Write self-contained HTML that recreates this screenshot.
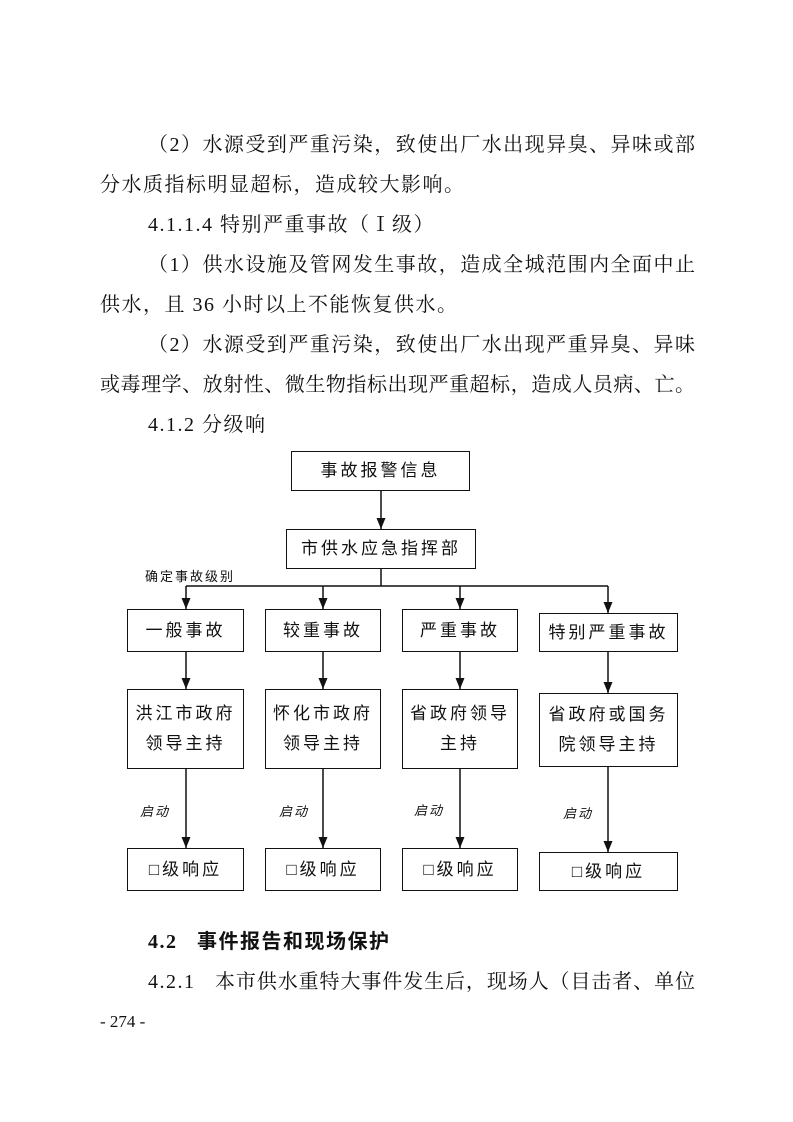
<!DOCTYPE html>
<html><head><meta charset="utf-8"><style>
html,body{margin:0;padding:0;background:#fff;}
body{width:793px;height:1122px;position:relative;overflow:hidden;font-family:"Liberation Serif","Noto Serif CJK SC",serif;color:#111;}
.l{position:absolute;font-size:20px;line-height:24px;white-space:nowrap;letter-spacing:1.5px;}
.j{text-align:justify;text-align-last:justify;letter-spacing:0;}
.b{position:absolute;border:1.5px solid #111;box-sizing:border-box;display:flex;align-items:center;justify-content:center;text-align:center;font-size:17px;line-height:30px;letter-spacing:3px;font-family:"Liberation Sans","Noto Sans CJK SC",sans-serif;}
.t{position:absolute;font-size:13px;font-family:"Liberation Sans","Noto Sans CJK SC",sans-serif;letter-spacing:2px;}
</style></head><body>
<div class="l j" style="left:148px;top:133px;width:547px">（2）水源受到严重污染，致使出厂水出现异臭、异味或部</div>
<div class="l" style="left:100px;top:173px">分水质指标明显超标，造成较大影响。</div>
<div class="l" style="left:148px;top:213px">4.1.1.4 特别严重事故（Ⅰ级）</div>
<div class="l j" style="left:148px;top:253px;width:547px">（1）供水设施及管网发生事故，造成全城范围内全面中止</div>
<div class="l" style="left:100px;top:293px">供水，且 36 小时以上不能恢复供水。</div>
<div class="l j" style="left:148px;top:333px;width:547px">（2）水源受到严重污染，致使出厂水出现严重异臭、异味</div>
<div class="l j" style="left:100px;top:373px;width:595px">或毒理学、放射性、微生物指标出现严重超标，造成人员病、亡。</div>
<div class="l" style="left:148px;top:413px">4.1.2 分级响</div>

<svg style="position:absolute;left:0;top:0" width="793" height="1122">
<defs><marker id="a" markerWidth="11" markerHeight="9" refX="11" refY="4.5" orient="auto" markerUnits="userSpaceOnUse"><path d="M0,0 L11,4.5 L0,9z" fill="#111"/></marker></defs>
<g stroke="#111" stroke-width="1.5" fill="none">
<line x1="381" y1="490" x2="381" y2="529" marker-end="url(#a)"/>
<line x1="381" y1="568" x2="381" y2="586"/>
<line x1="186" y1="586" x2="608" y2="586"/>
<line x1="186" y1="586" x2="186" y2="609" marker-end="url(#a)"/>
<line x1="323" y1="586" x2="323" y2="609" marker-end="url(#a)"/>
<line x1="460" y1="586" x2="460" y2="609" marker-end="url(#a)"/>
<line x1="608" y1="586" x2="608" y2="613" marker-end="url(#a)"/>
<line x1="186" y1="652" x2="186" y2="689" marker-end="url(#a)"/>
<line x1="323" y1="652" x2="323" y2="689" marker-end="url(#a)"/>
<line x1="460" y1="652" x2="460" y2="689" marker-end="url(#a)"/>
<line x1="608" y1="652" x2="608" y2="693" marker-end="url(#a)"/>
<line x1="186" y1="769" x2="186" y2="848" marker-end="url(#a)"/>
<line x1="323" y1="769" x2="323" y2="848" marker-end="url(#a)"/>
<line x1="460" y1="769" x2="460" y2="848" marker-end="url(#a)"/>
<line x1="608" y1="767" x2="608" y2="852" marker-end="url(#a)"/>
</g></svg>

<div class="b" style="left:291px;top:451px;width:179px;height:40px">事故报警信息</div>
<div class="b" style="left:286px;top:529px;width:190px;height:40px">市供水应急指挥部</div>
<div class="t" style="left:145px;top:566px">确定事故级别</div>

<div class="b" style="left:127px;top:609px;width:117px;height:43px">一般事故</div>
<div class="b" style="left:265px;top:609px;width:116px;height:43px">较重事故</div>
<div class="b" style="left:402px;top:609px;width:116px;height:43px">严重事故</div>
<div class="b" style="left:539px;top:613px;width:139px;height:39px">特别严重事故</div>

<div class="b" style="left:127px;top:689px;width:117px;height:80px">洪江市政府<br>领导主持</div>
<div class="b" style="left:265px;top:689px;width:116px;height:80px">怀化市政府<br>领导主持</div>
<div class="b" style="left:402px;top:689px;width:116px;height:80px">省政府领导<br>主持</div>
<div class="b" style="left:539px;top:693px;width:139px;height:74px">省政府或国务<br>院领导主持</div>

<div class="t" style="left:140px;top:801px;font-style:italic">启动</div>
<div class="t" style="left:279px;top:801px;font-style:italic">启动</div>
<div class="t" style="left:414px;top:800px;font-style:italic">启动</div>
<div class="t" style="left:563px;top:803px;font-style:italic">启动</div>

<div class="b" style="left:127px;top:848px;width:117px;height:43px">□级响应</div>
<div class="b" style="left:265px;top:848px;width:116px;height:43px">□级响应</div>
<div class="b" style="left:402px;top:848px;width:116px;height:43px">□级响应</div>
<div class="b" style="left:539px;top:852px;width:139px;height:39px">□级响应</div>

<div class="l" style="left:148px;top:930px;font-weight:bold;font-family:'Liberation Serif','Noto Sans CJK SC',sans-serif">4.2&nbsp;&nbsp;&nbsp;事件报告和现场保护</div>
<div class="l" style="left:148px;top:970px">4.2.1</div>
<div class="l j" style="left:215px;top:970px;width:480px">本市供水重特大事件发生后，现场人（目击者、单位</div>
<div class="l" style="left:100px;top:1010px;font-size:17px;letter-spacing:0">- 274 -</div>
</body></html>
